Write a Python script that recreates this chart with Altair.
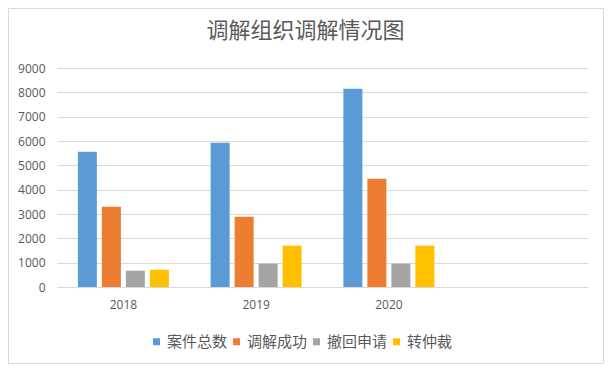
import altair as alt
import pandas as pd

# ---- data ----
years = ["2018", "2019", "2020"]
series = ["案件总数", "调解成功", "撤回申请", "转仲裁"]
case_total = [5560, 5930, 8150]
success = [3300, 2890, 4450]
withdraw = [670, 960, 960]
arbitration = [710, 1700, 1700]
colors = ["#5B9BD5", "#ED7D31", "#A5A5A5", "#FFC000"]
x_domain = years + [" "]          # empty fourth category slot, as in the original
y_ticks = list(range(0, 9001, 1000))
title_text = "调解组织调解情况图"

rows = []
for name, vals in zip(series, [case_total, success, withdraw, arbitration]):
    for y, v in zip(years, vals):
        rows.append({"year": y, "series": name, "value": v})
df = pd.DataFrame(rows)

GRAY_TXT = "#595959"
GRID = "#d9d9d9"
CJK = "Noto Sans CJK SC"
NUM = "Open Sans"

W, H = 531, 219
PAD_L, PAD_T, PAD_R, PAD_B = 49, 60, 16, 77

bars = alt.Chart(df).mark_bar().encode(
    x=alt.X(
        "year:N",
        scale=alt.Scale(domain=x_domain, paddingInner=0, paddingOuter=0),
        axis=alt.Axis(title=None, labelAngle=0, ticks=False, domain=False, grid=False,
                      labelPadding=12, labelFont=NUM, labelFontSize=12, labelColor=GRAY_TXT),
    ),
    xOffset=alt.XOffset(
        "series:N",
        scale=alt.Scale(domain=series, paddingInner=0.208, paddingOuter=0.87),
    ),
    y=alt.Y(
        "value:Q",
        scale=alt.Scale(domain=[0, 9000], nice=False),
        axis=alt.Axis(title=None, values=y_ticks, format="d", ticks=False, tickSize=0, domain=False,
                      grid=True, gridColor=GRID, gridWidth=1,
                      labelPadding=12, labelFont=NUM, labelFontSize=12, labelColor=GRAY_TXT),
    ),
    color=alt.Color(
        "series:N",
        scale=alt.Scale(domain=series, range=colors),
        legend=alt.Legend(
            title=None, orient="none", legendX=92, legendY=266, direction="horizontal",
            columns=4, symbolType="square", symbolSize=49, symbolStrokeWidth=0,
            labelFont=CJK, labelFontSize=15, labelColor=GRAY_TXT, labelOffset=3,
            columnPadding=1, padding=0,
        ),
    ),
)

title = alt.Chart(pd.DataFrame({"t": [title_text]})).mark_text(
    font=CJK, fontSize=22, color=GRAY_TXT, align="center", baseline="middle"
).encode(text="t:N", x=alt.value(248.5), y=alt.value(-37.5))

border = alt.Chart(pd.DataFrame({"k": [0]})).mark_rect(
    fillOpacity=0, stroke=GRID, strokeWidth=1
).encode(x=alt.value(-48.5), x2=alt.value(546.5), y=alt.value(-59.5), y2=alt.value(295.5))

chart = alt.layer(border, bars, title).properties(
    width=W, height=H,
    autosize=alt.AutoSizeParams(type="none"),
    padding={"left": PAD_L, "top": PAD_T, "right": PAD_R, "bottom": PAD_B},
).configure_view(strokeWidth=0)

chart.save("out.html", embed_options={"renderer": "svg", "actions": False})
